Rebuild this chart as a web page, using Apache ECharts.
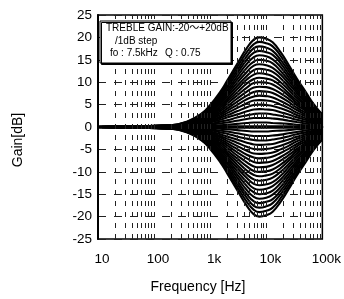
<!DOCTYPE html>
<html>
<head>
<meta charset="utf-8">
<script src="https://cdn.jsdelivr.net/npm/echarts@6/dist/echarts.min.js"></script>
<style>
  html, body { margin: 0; padding: 0; background: #fff; }
  #chart { width: 344px; height: 299px; }
</style>
</head>
<body>
<div id="chart"></div>
<script>
var freqs = [10, 200, 400, 700, 1000, 1500, 2000, 3000, 4500, 6000, 7500, 10000, 13000, 18000, 25000, 35000, 50000, 70000, 100000];

// +1 .. +20 dB
var boostCurves = [
  [0, 0.0, 0.1, 0.2, 0.2, 0.4, 0.5, 0.7, 0.9, 1.0, 1.0, 1.0, 0.9, 0.8, 0.7, 0.5, 0.4, 0.3, 0.1],
  [0, 0.0, 0.1, 0.3, 0.5, 0.8, 1.0, 1.4, 1.8, 2.0, 2.0, 2.0, 1.9, 1.7, 1.4, 1.1, 0.8, 0.5, 0.3],
  [0, 0.1, 0.2, 0.5, 0.7, 1.2, 1.5, 2.1, 2.6, 2.9, 3.0, 3.0, 2.8, 2.5, 2.1, 1.6, 1.2, 0.8, 0.4],
  [0, 0.1, 0.3, 0.6, 1.0, 1.6, 2.1, 2.8, 3.5, 3.9, 4.0, 3.9, 3.8, 3.3, 2.8, 2.2, 1.6, 1.0, 0.6],
  [0, 0.1, 0.3, 0.8, 1.2, 2.0, 2.6, 3.5, 4.4, 4.9, 5.0, 4.9, 4.7, 4.2, 3.5, 2.7, 2.0, 1.3, 0.7],
  [0, 0.1, 0.4, 0.9, 1.5, 2.3, 3.1, 4.2, 5.3, 5.9, 6.0, 5.9, 5.7, 5.0, 4.2, 3.2, 2.4, 1.5, 0.8],
  [0, 0.1, 0.5, 1.1, 1.7, 2.7, 3.6, 4.9, 6.2, 6.8, 7.0, 6.9, 6.6, 5.8, 4.9, 3.8, 2.8, 1.8, 1.0],
  [0, 0.2, 0.5, 1.2, 2.0, 3.1, 4.1, 5.6, 7.0, 7.8, 8.0, 7.9, 7.6, 6.7, 5.6, 4.3, 3.2, 2.0, 1.1],
  [0, 0.2, 0.6, 1.4, 2.2, 3.5, 4.6, 6.3, 7.9, 8.8, 9.0, 8.9, 8.5, 7.5, 6.3, 4.9, 3.6, 2.3, 1.3],
  [0, 0.2, 0.7, 1.5, 2.5, 3.9, 5.2, 7.0, 8.8, 9.8, 10.0, 9.9, 9.5, 8.4, 7.0, 5.4, 4.0, 2.6, 1.4],
  [0, 0.2, 0.7, 1.7, 2.7, 4.3, 5.7, 7.7, 9.7, 10.7, 11.0, 10.8, 10.4, 9.2, 7.6, 5.9, 4.3, 2.8, 1.5],
  [0, 0.2, 0.8, 1.8, 2.9, 4.7, 6.2, 8.4, 10.6, 11.7, 12.0, 11.8, 11.3, 10.0, 8.3, 6.5, 4.7, 3.1, 1.7],
  [0, 0.3, 0.8, 2.0, 3.2, 5.1, 6.7, 9.1, 11.4, 12.7, 13.0, 12.8, 12.3, 10.9, 9.0, 7.0, 5.1, 3.3, 1.8],
  [0, 0.3, 0.9, 2.1, 3.4, 5.5, 7.2, 9.8, 12.3, 13.7, 14.0, 13.8, 13.2, 11.7, 9.7, 7.6, 5.5, 3.6, 2.0],
  [0, 0.3, 1.0, 2.3, 3.7, 5.9, 7.7, 10.5, 13.2, 14.6, 15.0, 14.8, 14.2, 12.5, 10.4, 8.1, 5.9, 3.8, 2.1],
  [0, 0.3, 1.0, 2.4, 3.9, 6.2, 8.2, 11.2, 14.1, 15.6, 16.0, 15.8, 15.1, 13.4, 11.1, 8.6, 6.3, 4.1, 2.2],
  [0, 0.3, 1.1, 2.6, 4.2, 6.6, 8.8, 11.9, 15.0, 16.6, 17.0, 16.7, 16.1, 14.2, 11.8, 9.2, 6.7, 4.3, 2.4],
  [0, 0.4, 1.2, 2.7, 4.4, 7.0, 9.3, 12.6, 15.8, 17.6, 18.0, 17.7, 17.0, 15.0, 12.5, 9.7, 7.1, 4.6, 2.5],
  [0, 0.4, 1.2, 2.9, 4.7, 7.4, 9.8, 13.3, 16.7, 18.5, 19.0, 18.7, 18.0, 15.9, 13.2, 10.3, 7.5, 4.8, 2.7],
  [0, 0.4, 1.3, 3.0, 4.9, 7.8, 10.3, 14.0, 17.6, 19.5, 20.0, 19.7, 18.9, 16.7, 13.9, 10.8, 7.9, 5.1, 2.8]
];

// -1 .. -20 dB
var cutCurves = [
  [0, -0.0, -0.1, -0.2, -0.2, -0.4, -0.5, -0.7, -0.9, -1.0, -1.0, -1.0, -0.9, -0.8, -0.7, -0.5, -0.4, -0.3, -0.1],
  [0, -0.0, -0.1, -0.3, -0.5, -0.8, -1.0, -1.4, -1.8, -2.0, -2.0, -2.0, -1.9, -1.7, -1.4, -1.1, -0.8, -0.5, -0.3],
  [0, -0.1, -0.2, -0.5, -0.7, -1.2, -1.5, -2.1, -2.6, -2.9, -3.0, -3.0, -2.8, -2.5, -2.1, -1.6, -1.2, -0.8, -0.4],
  [0, -0.1, -0.3, -0.6, -1.0, -1.6, -2.1, -2.8, -3.5, -3.9, -4.0, -3.9, -3.8, -3.3, -2.8, -2.2, -1.6, -1.0, -0.6],
  [0, -0.1, -0.3, -0.8, -1.2, -2.0, -2.6, -3.5, -4.4, -4.9, -5.0, -4.9, -4.7, -4.2, -3.5, -2.7, -2.0, -1.3, -0.7],
  [0, -0.1, -0.4, -0.9, -1.5, -2.3, -3.1, -4.2, -5.3, -5.9, -6.0, -5.9, -5.7, -5.0, -4.2, -3.2, -2.4, -1.5, -0.8],
  [0, -0.1, -0.5, -1.1, -1.7, -2.7, -3.6, -4.9, -6.2, -6.8, -7.0, -6.9, -6.6, -5.8, -4.9, -3.8, -2.8, -1.8, -1.0],
  [0, -0.2, -0.5, -1.2, -2.0, -3.1, -4.1, -5.6, -7.0, -7.8, -8.0, -7.9, -7.6, -6.7, -5.6, -4.3, -3.2, -2.0, -1.1],
  [0, -0.2, -0.6, -1.4, -2.2, -3.5, -4.6, -6.3, -7.9, -8.8, -9.0, -8.9, -8.5, -7.5, -6.3, -4.9, -3.6, -2.3, -1.3],
  [0, -0.2, -0.7, -1.5, -2.5, -3.9, -5.2, -7.0, -8.8, -9.8, -10.0, -9.9, -9.5, -8.4, -7.0, -5.4, -4.0, -2.6, -1.4],
  [0, -0.2, -0.7, -1.7, -2.7, -4.3, -5.7, -7.7, -9.7, -10.7, -11.0, -10.8, -10.4, -9.2, -7.6, -5.9, -4.3, -2.8, -1.5],
  [0, -0.2, -0.8, -1.8, -2.9, -4.7, -6.2, -8.4, -10.6, -11.7, -12.0, -11.8, -11.3, -10.0, -8.3, -6.5, -4.7, -3.1, -1.7],
  [0, -0.3, -0.8, -2.0, -3.2, -5.1, -6.7, -9.1, -11.4, -12.7, -13.0, -12.8, -12.3, -10.9, -9.0, -7.0, -5.1, -3.3, -1.8],
  [0, -0.3, -0.9, -2.1, -3.4, -5.5, -7.2, -9.8, -12.3, -13.7, -14.0, -13.8, -13.2, -11.7, -9.7, -7.6, -5.5, -3.6, -2.0],
  [0, -0.3, -1.0, -2.3, -3.7, -5.9, -7.7, -10.5, -13.2, -14.6, -15.0, -14.8, -14.2, -12.5, -10.4, -8.1, -5.9, -3.8, -2.1],
  [0, -0.3, -1.0, -2.4, -3.9, -6.2, -8.2, -11.2, -14.1, -15.6, -16.0, -15.8, -15.1, -13.4, -11.1, -8.6, -6.3, -4.1, -2.2],
  [0, -0.3, -1.1, -2.6, -4.2, -6.6, -8.8, -11.9, -15.0, -16.6, -17.0, -16.7, -16.1, -14.2, -11.8, -9.2, -6.7, -4.3, -2.4],
  [0, -0.4, -1.2, -2.7, -4.4, -7.0, -9.3, -12.6, -15.8, -17.6, -18.0, -17.7, -17.0, -15.0, -12.5, -9.7, -7.1, -4.6, -2.5],
  [0, -0.4, -1.2, -2.9, -4.7, -7.4, -9.8, -13.3, -16.7, -18.5, -19.0, -18.7, -18.0, -15.9, -13.2, -10.3, -7.5, -4.8, -2.7],
  [0, -0.4, -1.3, -3.0, -4.9, -7.8, -10.3, -14.0, -17.6, -19.5, -20.0, -19.7, -18.9, -16.7, -13.9, -10.8, -7.9, -5.1, -2.8]
];

var flatCurve = [0, 0, 0, 0, 0, 0, 0, 0, 0, 0, 0, 0, 0, 0, 0, 0, 0, 0, 0];

// vertical grid lines (2..9 of every decade, plus the decades)
var gridFreqs = [20, 30, 40, 50, 60, 70, 80, 90, 100,
  200, 300, 400, 500, 600, 700, 800, 900, 1000,
  2000, 3000, 4000, 5000, 6000, 7000, 8000, 9000, 10000,
  20000, 30000, 40000, 50000, 60000, 70000, 80000, 90000];

var xTickLabels = ['10', '100', '1k', '10k', '100k'];

var fontName = '"Liberation Sans", Arial, "Noto Sans CJK JP", sans-serif';

function toPoints(vals) {
  var pts = [];
  for (var i = 0; i < freqs.length; i++) {
    pts.push([freqs[i], vals[i]]);
  }
  return pts;
}

var series = [];
series.push({
  type: 'line',
  data: [],
  z: 1,
  silent: true,
  markLine: {
    silent: true,
    symbol: 'none',
    animation: false,
    label: { show: false },
    lineStyle: { color: '#222', width: 1, type: [5, 6] },
    data: gridFreqs.map(function (f) { return { xAxis: f }; })
  }
});

function addCurve(vals, w) {
  series.push({
    type: 'line',
    data: toPoints(vals),
    showSymbol: false,
    smooth: true,
    z: 3,
    lineStyle: { color: '#000', width: w }
  });
}

addCurve(flatCurve, 3.5);
for (var i = 0; i < boostCurves.length; i++) addCurve(boostCurves[i], 2.1);
for (var j = 0; j < cutCurves.length; j++) addCurve(cutCurves[j], 2.1);

var chart = echarts.init(document.getElementById('chart'));
chart.setOption({
  animation: false,
  backgroundColor: '#fff',
  grid: {
    left: 98, right: 8, top: 15, bottom: 60,
    show: true, borderColor: '#000', borderWidth: 1.5
  },
  xAxis: {
    type: 'log',
    logBase: 10,
    min: 10,
    max: 100000,
    axisLine: { show: true, lineStyle: { color: '#000', width: 2 } },
    axisTick: { show: false },
    splitLine: { show: false },
    axisLabel: {
      color: '#000',
      fontSize: 13.5,
      fontFamily: fontName,
      margin: 14,
      padding: [0, 0, 0, 8],
      showMaxLabel: true,
      formatter: function (v) {
        return xTickLabels[Math.round(Math.log10(v)) - 1];
      }
    }
  },
  yAxis: {
    type: 'value',
    min: -25,
    max: 25,
    interval: 5,
    axisLine: { show: true, lineStyle: { color: '#000', width: 2 } },
    axisTick: { show: false },
    splitLine: { show: true, lineStyle: { color: '#222', width: 1, type: [8, 8] } },
    axisLabel: { color: '#000', fontSize: 13.5, fontFamily: fontName, margin: 6 }
  },
  graphic: [
    {
      type: 'rect',
      z: 100,
      shape: { x: 100, y: 21, width: 131, height: 42 },
      style: { fill: '#fff', stroke: '#000', lineWidth: 1, shadowColor: '#000', shadowOffsetX: 1.5, shadowOffsetY: 1.5 }
    },
    { type: 'text', z: 101, x: 106, y: 28.5, style: { text: 'TREBLE GAIN:-20～+20dB', fontSize: 10, fontFamily: fontName, fill: '#000', verticalAlign: 'middle' } },
    { type: 'text', z: 101, x: 115, y: 41.5, style: { text: '/1dB step', fontSize: 10, fontFamily: fontName, fill: '#000', verticalAlign: 'middle' } },
    { type: 'text', z: 101, x: 110, y: 53.5, style: { text: 'fo : 7.5kHz', fontSize: 10, fontFamily: fontName, fill: '#000', verticalAlign: 'middle' } },
    { type: 'text', z: 101, x: 165, y: 53.5, style: { text: 'Q : 0.75', fontSize: 10, fontFamily: fontName, fill: '#000', verticalAlign: 'middle' } },
    { type: 'text', x: 198, y: 287, style: { text: 'Frequency [Hz]', fontSize: 14, fontFamily: fontName, fill: '#000', align: 'center', verticalAlign: 'middle' } },
    { type: 'text', x: 18, y: 140, rotation: Math.PI / 2, style: { text: 'Gain[dB]', fontSize: 14, fontFamily: fontName, fill: '#000', align: 'center', verticalAlign: 'middle' } }
  ],
  series: series
});
</script>
</body>
</html>
